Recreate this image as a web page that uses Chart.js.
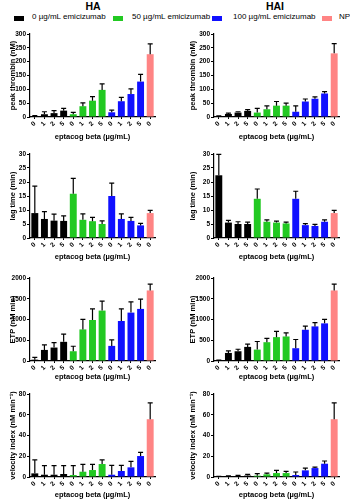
<!DOCTYPE html>
<html lang="en">
<head>
<meta charset="UTF-8">
<title>Thrombin generation HA / HAI</title>
<script src="https://cdn.jsdelivr.net/npm/chart.js"></script>
<style>
    body { margin: 0; background: #fff; font-family: 'Liberation Sans', Arial, sans-serif; }
    #wrap { position: relative; width: 350px; height: 500px; overflow: hidden; }
    #wrap canvas { position: absolute; }
    .head { position: absolute; top: 0; font-weight: bold; font-size: 10.5px; transform: translateX(-50%); }
    .leg { position: absolute; top: 12px; font-size: 8px; white-space: nowrap; }
    .box { position: absolute; top: 16px; width: 10px; height: 5px; }
</style>
</head>
<body>
<div id="wrap">
    <div class="head" style="left:93px">HA</div>
    <div class="head" style="left:275px">HAI</div>

    <div class="box" style="left:14px;background:#000"></div>
    <div class="leg" style="left:32px">0 µg/mL emicizumab</div>
    <div class="box" style="left:113px;background:#22c922"></div>
    <div class="leg" style="left:132px">50 µg/mL emicizumab</div>
    <div class="box" style="left:212px;background:#1010ff"></div>
    <div class="leg" style="left:233px">100 µg/mL emicizumab</div>
    <div class="box" style="left:322px;background:#ff8484"></div>
    <div class="leg" style="left:339px">NP</div>

    <canvas id="c1" width="175" height="116" style="left:0;top:26px"></canvas>
    <canvas id="c2" width="175" height="116" style="left:175px;top:26px"></canvas>
    <canvas id="c3" width="175" height="116" style="left:0;top:146px"></canvas>
    <canvas id="c4" width="175" height="116" style="left:175px;top:146px"></canvas>
    <canvas id="c5" width="175" height="114" style="left:0;top:268px"></canvas>
    <canvas id="c6" width="175" height="114" style="left:175px;top:268px"></canvas>
    <canvas id="c7" width="175" height="114" style="left:0;top:386px"></canvas>
    <canvas id="c8" width="175" height="114" style="left:175px;top:386px"></canvas>
</div>

<script>
    // x categories: eptacog beta dose within each emicizumab group, then normal plasma
    const doses = ['0', '1', '2', '5', '0', '1', '2', '5', '0', '1', '2', '5', '0'];
    const groupColors = ['#000000', '#000000', '#000000', '#000000',
        '#22c922', '#22c922', '#22c922', '#22c922',
        '#1010ff', '#1010ff', '#1010ff', '#1010ff',
        '#ff8484'];
    const xTitle = 'eptacog beta (µg/mL)';

    // peak thrombin (nM)
    const haPeak = [2, 10, 14, 23, 10, 39, 59, 98, 17, 57, 83, 128, 227];
    const haPeakSd = [3, 9, 9, 8, 7, 12, 15, 22, 8, 14, 19, 26, 37];
    const haiPeak = [2, 11, 16, 22, 16, 28, 41, 41, 19, 56, 66, 85, 230];
    const haiPeakSd = [2, 3, 3, 5, 15, 12, 15, 9, 21, 9, 7, 7, 35];

    // lag time (min)
    const haLag = [8.9, 6.8, 6.2, 6.1, 15.8, 6.5, 6.0, 5.0, 15.0, 6.8, 6.1, 4.5, 8.9];
    const haLagSd = [9.6, 2.6, 2.3, 1.8, 5.5, 2.1, 1.4, 1.1, 4.6, 1.8, 1.3, 0.7, 1.0];
    const haiLag = [22.4, 5.5, 5.0, 5.0, 14.0, 5.8, 5.5, 5.2, 14.0, 4.6, 4.3, 5.8, 8.9];
    const haiLagSd = [7.5, 0.8, 0.8, 0.7, 3.5, 0.7, 0.5, 0.5, 2.7, 0.5, 0.6, 0.7, 1.0];

    // ETP (nM min)
    const haEtp = [32, 267, 324, 462, 235, 761, 988, 1215, 364, 964, 1166, 1255, 1700];
    const haEtpSd = [57, 122, 120, 186, 121, 243, 267, 226, 146, 291, 259, 235, 154];
    const haiEtp = [8, 194, 235, 340, 275, 453, 575, 591, 308, 753, 834, 907, 1700];
    const haiEtpSd = [16, 49, 48, 65, 195, 90, 138, 89, 210, 89, 89, 97, 154];

    // velocity index (nM/min)
    const haVel = [3.5, 2.2, 2.2, 2.9, 1.9, 5.1, 6.7, 12.5, 2.2, 5.8, 9.3, 20.2, 55.7];
    const haVelSd = [13.1, 8.7, 8.7, 8.0, 9.0, 7.1, 5.5, 4.1, 9.0, 5.4, 5.7, 3.5, 15.7];
    const haiVel = [0.3, 0.6, 0.8, 1.4, 1.3, 2.6, 3.8, 3.8, 1.9, 6.4, 8.6, 12.8, 55.7];
    const haiVelSd = [0.3, 0.4, 0.7, 1.1, 1.9, 1.2, 2.6, 1.6, 2.9, 2.2, 1.0, 2.6, 15.7];

    const fontFamily = "'Liberation Sans', Arial, sans-serif";

    // upward-only SD whiskers with a cap
    const errorBars = {
        id: 'errorBars',
        afterDatasetsDraw(chart) {
            const ctx = chart.ctx;
            const yScale = chart.scales.y;
            chart.data.datasets.forEach((ds, i) => {
                chart.getDatasetMeta(i).data.forEach((bar, j) => {
                    const top = yScale.getPixelForValue(ds.data[j] + ds.errors[j]);
                    ctx.save();
                    ctx.strokeStyle = '#000';
                    ctx.lineWidth = 1.2;
                    ctx.beginPath();
                    ctx.moveTo(bar.x, bar.y);
                    ctx.lineTo(bar.x, top);
                    ctx.moveTo(bar.x - 2.5, top);
                    ctx.lineTo(bar.x + 2.5, top);
                    ctx.stroke();
                    ctx.restore();
                });
            });
        }
    };

    function makePanel(id, means, sds, yMax, yStep, yTitle, side, area) {
        const canvas = document.getElementById(id);
        const H = canvas.height;
        const left = side === 'left' ? 30 : 39;
        const right = side === 'left' ? 155 : 164;
        const yTitlePad = side === 'left' ? 8.5 : 13;

        return new Chart(canvas, {
            type: 'bar',
            data: {
                labels: doses,
                datasets: [{
                    data: means,
                    errors: sds,
                    backgroundColor: groupColors,
                    borderWidth: 0,
                    barPercentage: 0.72,
                    categoryPercentage: 1
                }]
            },
            options: {
                responsive: false,
                animation: false,
                devicePixelRatio: 1,
                layout: { padding: { top: area.top, right: 175 - right, left: 0, bottom: 0 } },
                plugins: { legend: { display: false }, tooltip: { enabled: false } },
                scales: {
                    x: {
                        grid: { display: true, drawOnChartArea: false, offset: false, tickLength: 2, color: '#000', lineWidth: 1 },
                        border: { color: '#000', width: 1.2 },
                        ticks: {
                            minRotation: 45, maxRotation: 45, padding: 1, color: '#000',
                            font: { family: fontFamily, size: 6.5, weight: 'bold' }
                        },
                        title: {
                            display: true, text: xTitle, color: '#000',
                            font: { family: fontFamily, size: 7.5, weight: 'bold' },
                            padding: { top: 0, bottom: 1 }
                        },
                        afterFit: s => { s.height = H - area.bottom; }
                    },
                    y: {
                        min: 0,
                        max: yMax,
                        grid: { display: true, drawOnChartArea: false, tickLength: 3, color: '#000', lineWidth: 1 },
                        border: { color: '#000', width: 1.2 },
                        ticks: {
                            stepSize: yStep, padding: 1, color: '#000',
                            font: { family: fontFamily, size: 6.5, weight: 'bold' },
                            callback: v => String(v)
                        },
                        title: {
                            display: true, text: yTitle, color: '#000',
                            font: { family: fontFamily, size: 7.5, weight: 'bold' },
                            padding: { top: yTitlePad, bottom: 0 }
                        },
                        afterFit: s => { s.width = left; }
                    }
                }
            },
            plugins: [errorBars]
        });
    }

    const row1 = { top: 8, bottom: 91 };
    const row2 = { top: 8, bottom: 92 };
    const row3 = { top: 10, bottom: 93 };
    const row4 = { top: 8, bottom: 91 };

    makePanel('c1', haPeak, haPeakSd, 300, 50, 'peak thrombin (nM)', 'left', row1);
    makePanel('c2', haiPeak, haiPeakSd, 300, 50, 'peak thrombin (nM)', 'right', row1);
    makePanel('c3', haLag, haLagSd, 30, 5, 'lag time (min)', 'left', row2);
    makePanel('c4', haiLag, haiLagSd, 30, 5, 'lag time (min)', 'right', row2);
    makePanel('c5', haEtp, haEtpSd, 2000, 500, 'ETP (nM min)', 'left', row3);
    makePanel('c6', haiEtp, haiEtpSd, 2000, 500, 'ETP (nM min)', 'right', row3);
    makePanel('c7', haVel, haVelSd, 80, 10, 'velocity index (nM min⁻¹)', 'left', row4);
    makePanel('c8', haiVel, haiVelSd, 80, 10, 'velocity index (nM min⁻¹)', 'right', row4);
</script>
</body>
</html>
